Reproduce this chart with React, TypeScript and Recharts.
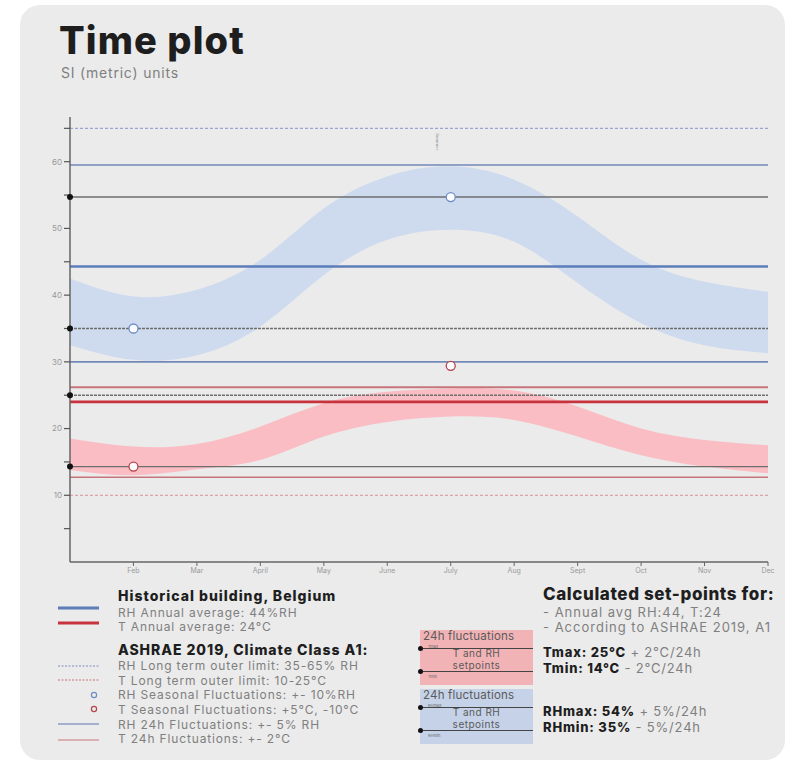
import {
  Area,
  ComposedChart,
  ReferenceDot,
  ReferenceLine,
  Scatter,
  XAxis,
  YAxis,
} from "recharts";

const months = ["Jan", "Feb", "Mar", "April", "May", "June", "July", "Aug", "Sept", "Oct", "Nov", "Dec"];

// seasonal bands (one value per month)
const rhUpper = [42.5, 39.8, 40.8, 45.3, 53.0, 57.8, 59.3, 57.3, 51.8, 45.3, 42.0, 40.5];
const rhLower = [32.5, 30.3, 31.0, 35.3, 43.0, 48.3, 49.8, 48.0, 41.8, 35.8, 32.5, 31.3];
const tUpper = [18.5, 17.3, 17.7, 20.3, 23.8, 25.5, 26.0, 25.7, 23.3, 20.0, 18.3, 17.5];
const tLower = [13.8, 13.0, 13.9, 15.3, 18.8, 21.0, 21.8, 21.3, 18.8, 16.0, 14.3, 13.3];

const yTicks = [5, 10, 15, 20, 25, 30, 35, 40, 45, 50, 55, 60, 65];
const xTicks = [1, 2, 3, 4, 5, 6, 7, 8, 9, 10, 11];

const rhAverage = 44.3;
const tAverage = 24;
const rhLongTerm = [65, 35];
const tLongTerm = [10, 25];
const setpoints = [54.7, 35, 25, 14.3];
const rh24h = [59.5, 30];
const t24h = [26.2, 12.7];
const rhSeasonal = [
  { m: 1, v: 35 },
  { m: 6, v: 54.7 },
];
const tSeasonal = [
  { m: 1, v: 14.3 },
  { m: 6, v: 29.4 },
];

const ashraeLines = [
  "RH Long term outer limit: 35-65% RH",
  "T Long term outer limit: 10-25°C",
  "RH Seasonal Fluctuations: +- 10%RH",
  "T Seasonal Fluctuations: +5°C, -10°C",
  "RH 24h Fluctuations: +- 5% RH",
  "T 24h Fluctuations: +- 2°C",
];

const seasonData = months.map((name, i) => ({
  m: i,
  name,
  rh: [rhLower[i], rhUpper[i]],
  t: [tLower[i], tUpper[i]],
}));

const FONT = "Inter, 'Open Sans', sans-serif";
const GREY = "#7f7f7f";
const DARK = "#1e1e1e";

// one line of text centred vertically on y
function Txt({ x, y, size, weight = 400, color = GREY, ls = 0, children }: any) {
  return (
    <div
      style={{
        position: "absolute",
        left: x,
        top: y - size * 0.6,
        fontSize: size,
        lineHeight: `${size * 1.2}px`,
        fontWeight: weight,
        color,
        whiteSpace: "nowrap",
        fontFamily: FONT,
        letterSpacing: ls,
      }}
    >
      {children}
    </div>
  );
}

function FluctBox({ top, bg, maxLabel, minLabel }: any) {
  const base = { position: "absolute" as const, fontFamily: FONT, whiteSpace: "nowrap" as const, color: "#5a5a5a" };
  return (
    <div style={{ position: "absolute", left: 420, top, width: 113, height: 55, background: bg }}>
      <div style={{ ...base, left: 3, top: 0, fontSize: 11.5, lineHeight: "13px", letterSpacing: 0.2 }}>
        24h fluctuations
      </div>
      <div style={{ position: "absolute", left: 0, top: 18, width: 113, height: 1.3, background: "#444" }} />
      <div style={{ position: "absolute", left: -2, top: 16, width: 5, height: 5, borderRadius: 3, background: "#111" }} />
      <div style={{ ...base, left: 8, top: 14.6, fontSize: 4, lineHeight: "4px", color: "#666" }}>{maxLabel}</div>
      <div style={{ ...base, left: 0, width: 113, top: 16.5, textAlign: "center", fontSize: 10, lineHeight: "12px", letterSpacing: 0.5 }}>
        T and RH
      </div>
      <div style={{ ...base, left: 0, width: 113, top: 28.6, textAlign: "center", fontSize: 10, lineHeight: "12px", letterSpacing: 0.5 }}>
        setpoints
      </div>
      <div style={{ position: "absolute", left: 0, top: 41, width: 113, height: 1.3, background: "#444" }} />
      <div style={{ position: "absolute", left: -2, top: 39, width: 5, height: 5, borderRadius: 3, background: "#111" }} />
      <div style={{ ...base, left: 8, top: 45, fontSize: 4, lineHeight: "4px", color: "#666" }}>{minLabel}</div>
    </div>
  );
}

export default function App() {
  return (
    <div style={{ position: "absolute", left: 0, top: 0, width: 788, height: 762, background: "#fff", overflow: "hidden" }}>
      <div
        style={{
          position: "absolute",
          left: 20,
          top: 5,
          width: 765,
          height: 755,
          borderRadius: 20,
          background: "#ebebeb",
        }}
      />
      <Txt x={59} y={41} size={38} weight={800} color={DARK} ls={1.1}>
        Time plot
      </Txt>
      <Txt x={61} y={73.5} size={14} color={GREY} ls={0.8}>
        SI (metric) units
      </Txt>

      <div style={{ position: "absolute", left: 0, top: 0 }}>
        <ComposedChart
          width={788}
          height={600}
          data={seasonData}
          margin={{ top: 117, right: 20, bottom: 8, left: 40 }}
        >
          <XAxis
            dataKey="m"
            type="number"
            domain={[0, 11]}
            ticks={xTicks}
            tickFormatter={(v) => months[v]}
            tick={{ fontSize: 7, fill: "#999", fontFamily: FONT }}
            axisLine={{ stroke: "#666", strokeWidth: 1.5 }}
            tickLine={{ stroke: "#666" }}
            tickSize={4}
            height={30}
            interval={0}
          />
          <YAxis
            type="number"
            domain={[0, 66.7]}
            ticks={yTicks}
            tickFormatter={(v) => (v % 10 === 0 ? String(v) : "")}
            tick={{ fontSize: 8, fill: "#999", fontFamily: FONT }}
            axisLine={{ stroke: "#666", strokeWidth: 1.5 }}
            tickLine={{ stroke: "#555", strokeWidth: 1.2 }}
            tickSize={6}
            width={30}
            interval={0}
          />
          <Area
            dataKey="rh"
            type="natural"
            stroke="none"
            fill="#c2d4f0"
            fillOpacity={0.72}
            isAnimationActive={false}
          />
          <Area
            dataKey="t"
            type="natural"
            stroke="none"
            fill="#ffadb5"
            fillOpacity={0.75}
            isAnimationActive={false}
          />
          {setpoints.map((v) => (
            <ReferenceLine
              key={"sp" + v}
              y={v}
              stroke="#6e6e6e"
              strokeWidth={1.4}
              strokeDasharray={rhLongTerm.includes(v) || tLongTerm.includes(v) ? "3 1" : undefined}
            />
          ))}
          {rhLongTerm
            .filter((v) => !setpoints.includes(v))
            .map((v) => (
              <ReferenceLine key={"rl" + v} y={v} stroke="#98a6cf" strokeWidth={1.2} strokeDasharray="3 2" />
            ))}
          {tLongTerm
            .filter((v) => !setpoints.includes(v))
            .map((v) => (
              <ReferenceLine key={"tl" + v} y={v} stroke="#d98f96" strokeWidth={1} strokeDasharray="3 2" />
            ))}
          {rh24h.map((v) => (
            <ReferenceLine key={"r24" + v} y={v} stroke="#7189b8" strokeWidth={1.6} />
          ))}
          {t24h.map((v, i) => (
            <ReferenceLine key={"t24" + v} y={v} stroke="#c7747b" strokeWidth={i === 0 ? 2 : 1.3} />
          ))}
          <ReferenceLine y={rhAverage} stroke="#5b7dba" strokeWidth={2.6} />
          <ReferenceLine y={tAverage} stroke="#c8323c" strokeWidth={2.6} />
          {setpoints.map((v) => (
            <ReferenceDot key={"d" + v} x={0} y={v} r={3} fill="#111" stroke="none" ifOverflow="visible" />
          ))}
          <ReferenceDot
            x={5.8}
            y={63}
            r={0}
            ifOverflow="visible"
            label={{ value: "Summer", angle: 90, fontSize: 5, fill: "#888", position: "center" }}
          />
          <Scatter data={rhSeasonal} dataKey="v" fill="#fafcff" stroke="#6e8cc4" strokeWidth={1.3} isAnimationActive={false} />
          <Scatter data={tSeasonal} dataKey="v" fill="#fff" stroke="#b5454d" strokeWidth={1.3} isAnimationActive={false} />
        </ComposedChart>
      </div>

      {/* legend symbols */}
      <svg style={{ position: "absolute", left: 0, top: 0 }} width={788} height={762}>
        <line x1={58} x2={99} y1={608} y2={608} stroke="#5b7dba" strokeWidth={3} />
        <line x1={58} x2={99} y1={623} y2={623} stroke="#c8323c" strokeWidth={3} />
        <line x1={58} x2={99} y1={666} y2={666} stroke="#7d8cc0" strokeWidth={1.2} strokeDasharray="2 1.5" />
        <line x1={58} x2={99} y1={680} y2={680} stroke="#c9707a" strokeWidth={1.2} strokeDasharray="2 1.5" />
        <circle cx={94} cy={695} r={2.6} fill="none" stroke="#6e8cc4" strokeWidth={1.2} />
        <circle cx={94} cy={709} r={2.6} fill="none" stroke="#b5454d" strokeWidth={1.2} />
        <line x1={58} x2={99} y1={724} y2={724} stroke="#8c9cc4" strokeWidth={1.5} />
        <line x1={58} x2={99} y1={740} y2={740} stroke="#d99ca0" strokeWidth={1.5} />
      </svg>

      <Txt x={118} y={596.5} size={14} weight={800} color={DARK} ls={1}>Historical building, Belgium</Txt>
      <Txt x={118} y={612.7} size={12} ls={0.85}>RH Annual average: 44%RH</Txt>
      <Txt x={118} y={627.3} size={12} ls={0.85}>T Annual average: 24°C</Txt>
      <Txt x={118} y={650.5} size={14} weight={800} color={DARK} ls={0.95}>ASHRAE 2019, Climate Class A1:</Txt>
      {ashraeLines.map((t, i) => (
        <Txt key={t} x={118} y={666.3 + i * 14.6} size={12} ls={0.85}>
          {t}
        </Txt>
      ))}

      <FluctBox top={630} bg="#f2b3b6" maxLabel="Tmax" minLabel="Tmin" />
      <FluctBox top={689} bg="#c5d2e8" maxLabel="RHmax" minLabel="RHmin" />

      <Txt x={543} y={594} size={17} weight={800} color={DARK} ls={0.6}>Calculated set-points for:</Txt>
      <Txt x={543} y={612.3} size={13} ls={1}>- Annual avg RH:44, T:24</Txt>
      <Txt x={543} y={628} size={13} ls={1}>- According to ASHRAE 2019, A1</Txt>
      <Txt x={543} y={653} size={13} ls={0.8} color={DARK}>
        <b style={{ fontWeight: 800 }}>Tmax: 25°C</b>
        <span style={{ color: GREY }}> + 2°C/24h</span>
      </Txt>
      <Txt x={543} y={669} size={13} ls={0.8} color={DARK}>
        <b style={{ fontWeight: 800 }}>Tmin: 14°C</b>
        <span style={{ color: GREY }}> - 2°C/24h</span>
      </Txt>
      <Txt x={543} y={712} size={13} ls={0.8} color={DARK}>
        <b style={{ fontWeight: 800 }}>RHmax: 54%</b>
        <span style={{ color: GREY }}> + 5%/24h</span>
      </Txt>
      <Txt x={543} y={728} size={13} ls={0.8} color={DARK}>
        <b style={{ fontWeight: 800 }}>RHmin: 35%</b>
        <span style={{ color: GREY }}> - 5%/24h</span>
      </Txt>
    </div>
  );
}
